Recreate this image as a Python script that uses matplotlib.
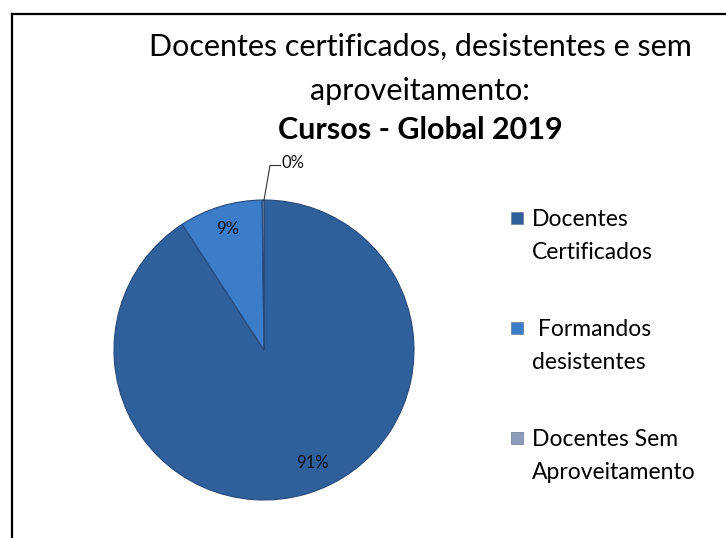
import numpy as np
import matplotlib.pyplot as plt
from matplotlib.lines import Line2D
from matplotlib.patches import Rectangle

plt.rcParams['font.family'] = ['Lato', 'DejaVu Sans']

# data
labels = ['Docentes\nCertificados', ' Formandos\ndesistentes', 'Docentes Sem\nAproveitamento']
values = [91.0, 9.0, 0.2]
colors = ['#30609C', '#3C7DCA', '#8C9DBA']
title_lines = ['Docentes certificados, desistentes e sem', 'aproveitamento:', 'Cursos - Global 2019']


def main():
    fig = plt.figure(figsize=(7.26, 5.38), dpi=100)
    W, H = 726, 538

    # frame (only top and left edges visible)
    fig.add_artist(Line2D([12 / W, 1.0], [1 - 14 / H, 1 - 14 / H], color='black', lw=1.6))
    fig.add_artist(Line2D([12 / W, 12 / W], [0.0, 1 - 14 / H], color='black', lw=1.6))

    fig.text(420 / W, 1 - 47 / H, title_lines[0], ha='center', va='center', fontsize=22)
    fig.text(420 / W, 1 - 91 / H, title_lines[1], ha='center', va='center', fontsize=22)
    fig.text(420 / W, 1 - 130 / H, title_lines[2], ha='center', va='center', fontsize=22,
             fontweight='bold')

    ax = fig.add_axes([114 / W, 1 - 500 / H, 300 / W, 300 / H])
    wedges, _ = ax.pie(values, colors=colors, startangle=90, counterclock=False,
                       wedgeprops=dict(edgecolor='#27497a', linewidth=0.8))
    ax.set_xlim(-1, 1)
    ax.set_ylim(-1, 1)
    ax.set_aspect('equal')
    ax.axis('off')

    total = sum(values)
    pct = [f'{v / total * 100:.0f}%' for v in values]
    ax.text(0.32, -0.75, pct[0], ha='center', va='center', fontsize=12, color='#111111')
    ax.text(-0.24, 0.81, pct[1], ha='center', va='center', fontsize=12, color='#111111')
    # small slice label with leader line
    ax.plot([0.0, 0.04, 0.11], [1.0, 1.23, 1.23], color='#333333', lw=0.8, clip_on=False)
    ax.text(0.12, 1.25, pct[2], ha='left', va='center', fontsize=12, color='#111111')

    # legend drawn by hand to keep Excel-like spacing
    for i, (lab, c) in enumerate(zip(labels, colors)):
        y0 = 218 + i * 110
        fig.add_artist(Rectangle((511 / W, 1 - (y0 + 6) / H), 12 / W, 12 / H,
                                 facecolor=c, edgecolor='#6a7a95', lw=0.5,
                                 transform=fig.transFigure))
        fig.text(532 / W, 1 - (y0 - 9) / H, lab, ha='left', va='top', fontsize=16.5,
                 linespacing=1.7)

    fig.savefig('out.png', dpi=100)
    plt.close(fig)


if __name__ == '__main__':
    main()
